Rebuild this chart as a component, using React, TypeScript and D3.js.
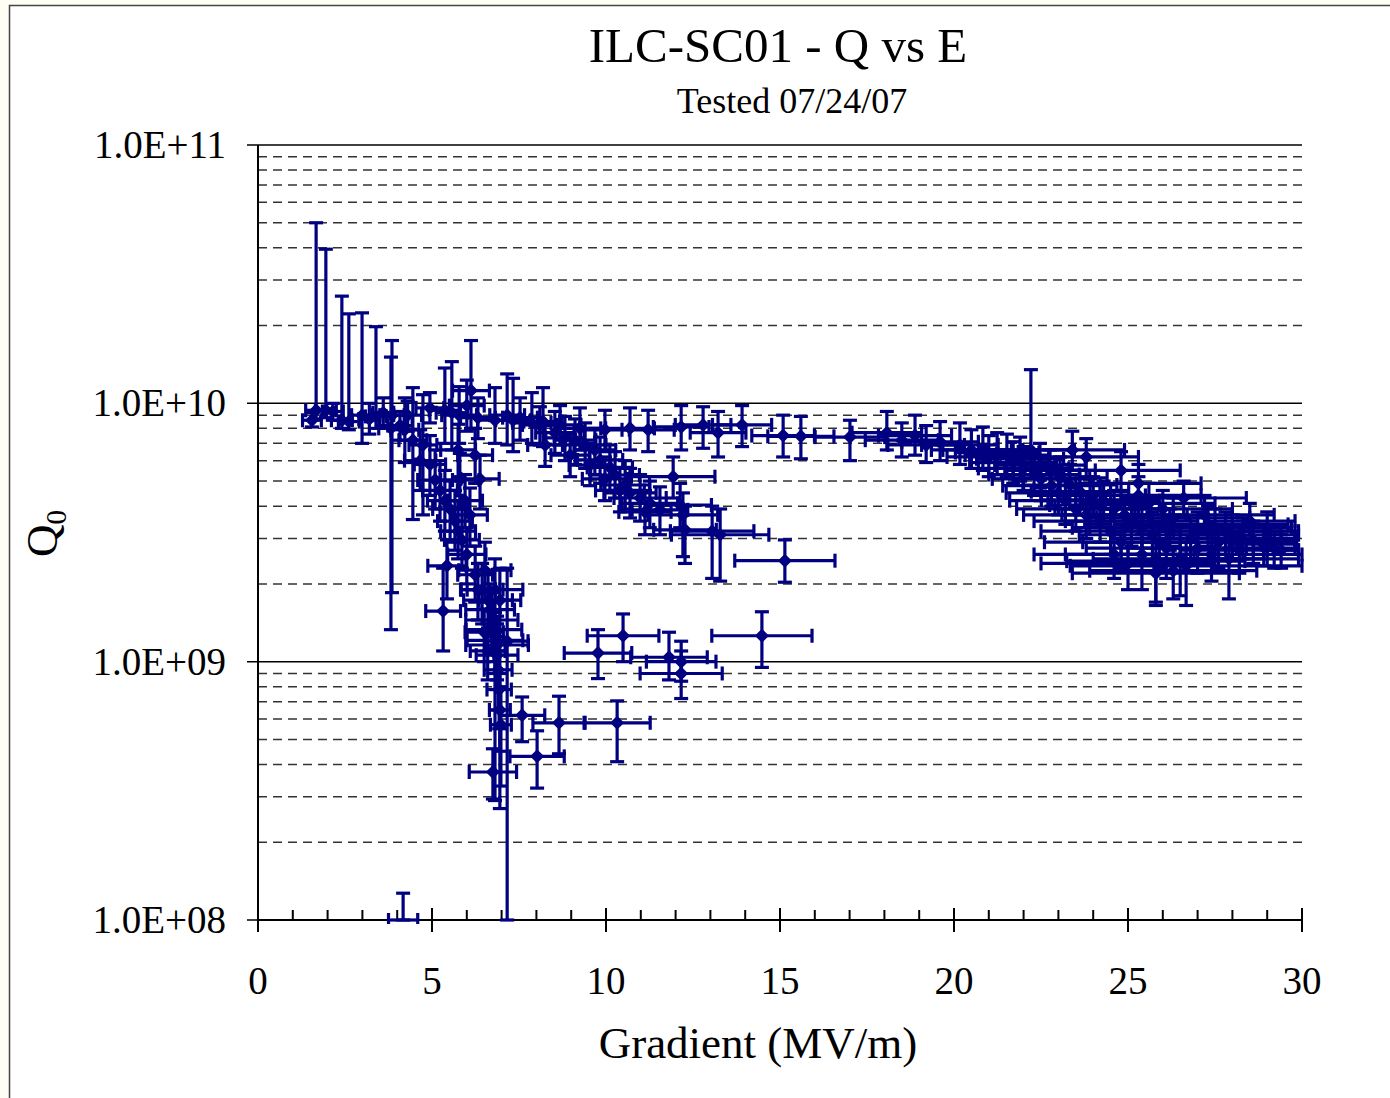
import React from "react";
import * as d3 from "d3";

// each point: [gradient MV/m, Q0, gradient error, Q0 upper end, Q0 lower end]
type Pt = [number, number, number, number, number];

const lowField: Pt[] = [
  [1.67, 9.4e9, 0.3, 5.0e10, 8.7e9],
  [1.95, 9.4e9, 0.3, 3.95e10, 8.8e9],
  [1.55, 8.6e9, 0.27, 9.2e9, 8.1e9],
  [2.15, 9.3e9, 0.3, 1.0e10, 8.6e9],
  [2.41, 8.6e9, 0.3, 2.6e10, 8.0e9],
  [2.61, 8.5e9, 0.3, 2.22e10, 7.9e9],
  [2.99, 9.0e9, 0.3, 2.24e10, 7.0e9],
  [3.2, 8.7e9, 0.3, 1.0e10, 7.6e9],
  [3.39, 8.9e9, 0.3, 1.98e10, 8.0e9],
  [3.6, 9.2e9, 0.3, 1.05e10, 8.2e9],
  [3.85, 9.0e9, 0.35, 1.75e10, 1.85e9],
  [3.82, 8.0e9, 0.35, 1.51e10, 1.33e9],
  [4.08, 8.2e9, 0.35, 9.3e9, 7.2e9],
  [4.3, 9.0e9, 0.4, 1.02e10, 7.8e9],
  [4.94, 9.6e9, 0.4, 1.1e10, 8.4e9],
  [5.37, 9.4e9, 0.45, 1.37e10, 7.0e9],
  [5.57, 9.2e9, 0.45, 1.45e10, 6.6e9],
  [5.78, 9.0e9, 0.5, 1.16e10, 7.0e9],
  [6.12, 1.12e10, 0.53, 1.75e10, 8.0e9],
  [6.0, 9.8e9, 0.5, 1.23e10, 7.8e9],
];

const dropBranch: Pt[] = [
  [4.22, 7.9e9, 0.4, 1.05e10, 5.9e9],
  [4.45, 7.2e9, 0.4, 1.15e10, 3.55e9],
  [4.74, 6.9e9, 0.4, 1.08e10, 3.7e9],
  [4.66, 6.0e9, 0.45, 7.9e9, 4.6e9],
  [4.94, 5.8e9, 0.45, 7.5e9, 4.4e9],
  [5.09, 5.05e9, 0.5, 6.6e9, 3.9e9],
  [5.23, 4.6e9, 0.5, 6.0e9, 3.5e9],
  [5.37, 4.2e9, 0.5, 5.5e9, 3.2e9],
  [5.52, 3.9e9, 0.5, 5.0e9, 2.9e9],
  [5.66, 3.5e9, 0.5, 4.6e9, 2.7e9],
  [5.75, 3.2e9, 0.5, 4.2e9, 2.5e9],
  [5.86, 2.96e9, 0.5, 3.9e9, 2.3e9],
  [5.43, 2.35e9, 0.55, 2.96e9, 1.75e9],
  [5.32, 1.57e9, 0.5, 2.3e9, 1.1e9],
  [5.8, 5.05e9, 0.55, 6.4e9, 3.9e9],
  [5.95, 4.2e9, 0.5, 5.3e9, 3.3e9],
  [6.09, 3.7e9, 0.5, 4.7e9, 2.8e9],
  [6.38, 5.1e9, 0.55, 6.3e9, 3.9e9],
  [6.24, 6.3e9, 0.5, 8.0e9, 4.9e9],
  [5.75, 6.6e9, 0.5, 8.3e9, 5.2e9],
  [6.52, 2.26e9, 0.75, 2.9e9, 1.7e9],
  [6.44, 1.9e9, 0.6, 2.4e9, 1.4e9],
  [6.0, 2.6e9, 0.55, 3.3e9, 2.0e9],
];

const collapse: Pt[] = [
  [6.61, 1.73e9, 0.7, 2.2e9, 1.35e9],
  [6.67, 1.59e9, 0.7, 2.0e9, 1.25e9],
  [6.72, 1.45e9, 0.75, 1.85e9, 1.1e9],
  [6.78, 1.33e9, 0.8, 1.7e9, 1.0e9],
  [6.81, 1.21e9, 0.8, 1.55e9, 9.0e8],
  [6.87, 1.16e9, 0.9, 1.5e9, 8.5e8],
  [6.87, 1.06e9, 0.6, 1.4e9, 7.8e8],
  [6.9, 9.3e8, 0.4, 1.25e9, 6.5e8],
  [6.93, 7.8e8, 0.35, 1.1e9, 5.5e8],
  [6.95, 6.5e8, 0.3, 9.0e8, 4.5e8],
  [6.98, 5.7e8, 0.3, 8.0e8, 3.3e8],
  [7.16, 1.2e9, 0.6, 2.3e9, 1.0e8],
  [6.81, 1.9e9, 0.8, 2.5e9, 2.9e8],
  [6.95, 1.73e9, 0.6, 2.3e9, 2.7e8],
  [6.32, 1.9e9, 0.5, 2.4e9, 1.45e9],
  [6.24, 2.17e9, 0.5, 2.8e9, 1.7e9],
  [6.5, 1.3e9, 0.55, 1.6e9, 1.0e9],
  [6.6, 1.1e9, 0.5, 1.4e9, 8.5e8],
];

const lateLow: Pt[] = [
  [7.59, 6.2e8, 0.65, 7.3e8, 4.9e8],
  [8.65, 5.8e8, 0.75, 7.35e8, 4.4e8],
  [10.32, 5.8e8, 0.95, 7.05e8, 4.1e8],
  [8.02, 4.3e8, 0.78, 5.4e8, 3.24e8],
  [6.75, 3.74e8, 0.68, 4.6e8, 2.94e8],
  [9.77, 1.08e9, 0.97, 1.33e9, 8.6e8],
  [10.49, 1.26e9, 1.03, 1.53e9, 1.0e9],
  [11.81, 1.04e9, 1.1, 1.3e9, 8.5e8],
  [12.16, 1.0e9, 1.0, 1.2e9, 8.4e8],
  [12.16, 9.0e8, 1.18, 1.1e9, 7.2e8],
  [14.48, 1.26e9, 1.44, 1.56e9, 9.5e8],
  [4.17, 1.0e8, 0.42, 1.27e8, 1.0e8],
];

const midBranch: Pt[] = [
  [8.1, 8.25e9, 0.5, 9.7e9, 6.9e9],
  [8.53, 7.7e9, 0.55, 9.3e9, 6.4e9],
  [8.82, 7.35e9, 0.55, 8.9e9, 6.0e9],
  [9.11, 7.2e9, 0.6, 8.7e9, 5.8e9],
  [9.4, 6.9e9, 0.6, 8.4e9, 5.6e9],
  [9.68, 6.6e9, 0.6, 8.0e9, 5.3e9],
  [9.83, 6.04e9, 0.65, 7.4e9, 4.9e9],
  [10.11, 5.65e9, 0.65, 6.9e9, 4.6e9],
  [10.26, 5.28e9, 0.7, 6.5e9, 4.3e9],
  [10.55, 4.83e9, 0.7, 6.0e9, 3.9e9],
  [10.69, 4.5e9, 0.75, 5.6e9, 3.6e9],
  [10.98, 4.3e9, 0.75, 5.3e9, 3.5e9],
  [11.26, 4.1e9, 0.8, 5.0e9, 3.3e9],
  [11.55, 3.87e9, 0.8, 4.75e9, 3.1e9],
  [11.93, 5.2e9, 1.2, 6.2e9, 4.3e9],
  [12.13, 4.04e9, 0.9, 4.9e9, 3.3e9],
  [12.21, 3.7e9, 1.0, 4.5e9, 2.55e9],
  [12.27, 3.24e9, 0.9, 4.0e9, 2.4e9],
  [13.05, 3.2e9, 1.2, 4.0e9, 2.1e9],
  [13.28, 3.1e9, 1.4, 3.9e9, 2.05e9],
  [15.14, 2.46e9, 1.44, 2.96e9, 2.03e9],
  [8.25, 6.9e9, 0.5, 8.2e9, 5.7e9],
  [8.97, 6.3e9, 0.55, 7.6e9, 5.2e9],
  [9.54, 5.77e9, 0.6, 7.0e9, 4.8e9],
  [9.97, 5.1e9, 0.65, 6.2e9, 4.2e9],
  [10.4, 4.6e9, 0.7, 5.6e9, 3.8e9],
  [11.12, 3.8e9, 0.75, 4.6e9, 3.1e9],
];

const topBranch: Pt[] = [
  [6.32, 8.8e9, 0.5, 1.05e10, 7.3e9],
  [6.81, 8.6e9, 0.5, 1.15e10, 7.0e9],
  [7.16, 9.0e9, 0.5, 1.3e10, 6.9e9],
  [7.33, 8.6e9, 0.5, 1.25e10, 6.5e9],
  [7.53, 8.8e9, 0.5, 1.05e10, 7.2e9],
  [7.87, 8.4e9, 0.55, 1.1e10, 7.0e9],
  [8.19, 8.5e9, 0.55, 1.15e10, 6.8e9],
  [8.68, 8.25e9, 0.6, 9.8e9, 6.9e9],
  [9.25, 8.0e9, 0.6, 9.6e9, 6.6e9],
  [9.97, 7.9e9, 0.7, 9.4e9, 6.5e9],
  [10.69, 8.0e9, 0.7, 9.6e9, 6.6e9],
  [11.21, 7.9e9, 0.75, 9.4e9, 6.5e9],
  [12.16, 8.1e9, 0.8, 9.8e9, 6.6e9],
  [12.79, 8.25e9, 0.8, 9.7e9, 6.7e9],
  [13.22, 7.7e9, 0.8, 9.3e9, 6.2e9],
  [13.91, 8.25e9, 0.85, 9.8e9, 6.8e9],
  [15.09, 7.5e9, 0.9, 9.0e9, 6.2e9],
  [15.6, 7.45e9, 0.95, 8.9e9, 6.1e9],
  [17.01, 7.4e9, 1.0, 8.6e9, 6.0e9],
  [18.07, 7.7e9, 1.0, 9.3e9, 6.6e9],
  [18.5, 7.2e9, 1.05, 8.4e9, 6.2e9],
  [18.88, 7.5e9, 1.05, 9.0e9, 6.3e9],
  [19.2, 6.9e9, 1.1, 8.2e9, 5.9e9],
  [19.6, 7.1e9, 1.1, 8.5e9, 6.0e9],
  [20.17, 6.9e9, 1.1, 8.4e9, 5.8e9],
  [20.5, 6.6e9, 1.15, 7.9e9, 5.6e9],
  [20.83, 6.6e9, 1.15, 8.1e9, 5.5e9],
  [21.0, 6.2e9, 1.2, 7.5e9, 5.2e9],
  [21.24, 6.45e9, 1.2, 7.7e9, 5.3e9],
  [21.52, 6.3e9, 1.2, 7.6e9, 5.2e9],
  [21.7, 5.9e9, 1.25, 7.1e9, 4.9e9],
  [21.9, 6.1e9, 1.25, 7.4e9, 5.0e9],
  [22.0, 5.6e9, 1.3, 6.8e9, 4.6e9],
  [22.21, 6.6e9, 1.25, 1.35e10, 5.3e9],
  [22.3, 5.3e9, 1.3, 6.4e9, 4.4e9],
];

const highField: Pt[] = [
  [22.47, 5.77e9, 1.3, 7.0e9, 4.7e9],
  [22.76, 5.5e9, 1.3, 6.6e9, 4.5e9],
  [23.05, 5.15e9, 1.35, 6.2e9, 4.2e9],
  [23.33, 4.83e9, 1.35, 5.8e9, 3.9e9],
  [23.62, 4.55e9, 1.4, 5.5e9, 3.7e9],
  [23.91, 4.23e9, 1.4, 5.1e9, 3.4e9],
  [24.2, 4.04e9, 1.45, 4.9e9, 3.3e9],
  [24.0, 4.4e9, 1.5, 5.2e9, 3.6e9],
  [24.3, 4.2e9, 1.6, 5.0e9, 3.4e9],
  [24.6, 3.9e9, 1.7, 4.6e9, 3.2e9],
  [24.9, 3.7e9, 1.8, 4.4e9, 3.0e9],
  [25.1, 3.5e9, 1.9, 4.2e9, 2.8e9],
  [25.4, 3.3e9, 2.0, 4.0e9, 2.6e9],
  [25.7, 3.1e9, 2.1, 3.8e9, 2.4e9],
  [25.9, 2.9e9, 2.2, 3.5e9, 2.3e9],
  [26.1, 2.75e9, 2.3, 3.3e9, 2.1e9],
  [25.8, 2.45e9, 2.56, 3.0e9, 1.7e9],
  [26.67, 2.35e9, 3.33, 2.9e9, 1.65e9],
  [26.3, 2.25e9, 2.4, 2.8e9, 1.75e9],
  [24.5, 3.2e9, 2.0, 3.9e9, 2.6e9],
  [24.2, 3.5e9, 1.9, 4.2e9, 2.9e9],
  [23.8, 3.7e9, 1.8, 4.5e9, 3.0e9],
  [23.5, 3.9e9, 1.7, 4.7e9, 3.2e9],
  [23.2, 4.2e9, 1.6, 5.0e9, 3.4e9],
  [23.0, 4.5e9, 1.5, 5.4e9, 3.7e9],
  [22.8, 4.8e9, 1.4, 5.7e9, 4.0e9],
  [22.5, 5.1e9, 1.4, 6.1e9, 4.2e9],
  [26.8, 3.0e9, 2.3, 3.6e9, 2.4e9],
  [27.0, 3.2e9, 2.4, 3.8e9, 2.6e9],
  [27.3, 3.4e9, 2.3, 4.0e9, 2.8e9],
  [27.5, 3.3e9, 2.2, 3.9e9, 2.6e9],
  [27.8, 3.2e9, 2.1, 3.8e9, 2.6e9],
  [28.0, 3.1e9, 1.9, 3.7e9, 2.5e9],
  [28.3, 3.0e9, 1.5, 3.6e9, 2.5e9],
  [28.6, 2.95e9, 1.2, 3.5e9, 2.4e9],
  [28.9, 2.85e9, 0.95, 3.4e9, 2.35e9],
  [29.2, 2.75e9, 0.6, 3.2e9, 2.3e9],
  [29.4, 2.7e9, 0.5, 3.1e9, 2.3e9],
  [26.3, 3.6e9, 2.2, 4.3e9, 3.0e9],
  [26.0, 3.9e9, 2.0, 4.6e9, 3.2e9],
  [25.6, 4.1e9, 1.9, 4.9e9, 3.4e9],
  [25.3, 4.4e9, 1.8, 5.2e9, 3.6e9],
  [27.4, 2.6e9, 2.6, 3.1e9, 2.05e9],
  [25.8, 2.2e9, 2.4, 2.6e9, 1.65e9],
  [25.4, 2.6e9, 2.2, 3.1e9, 1.9e9],
  [27.9, 2.5e9, 2.0, 3.0e9, 1.75e9],
  [27.0, 2.75e9, 2.0, 3.3e9, 2.2e9],
  [24.8, 2.9e9, 2.2, 3.4e9, 2.3e9],
  [28.5, 3.5e9, 1.3, 4.1e9, 2.9e9],
  [27.2, 3.7e9, 2.0, 4.4e9, 3.1e9],
  [29.0, 3.2e9, 0.8, 3.8e9, 2.7e9],
  [26.6, 4.3e9, 1.8, 5.0e9, 3.6e9],
  [25.3, 4.9e9, 1.8, 5.8e9, 4.1e9],
  [24.8, 5.5e9, 1.7, 6.5e9, 4.6e9],
  [23.8, 6.2e9, 1.5, 7.3e9, 5.2e9],
  [23.4, 6.6e9, 1.5, 7.8e9, 5.5e9],
  [24.6, 2.6e9, 2.3, 3.1e9, 2.1e9],
  [25.0, 2.4e9, 2.5, 2.9e9, 1.9e9],
  [26.5, 2.5e9, 2.5, 3.0e9, 1.8e9],
  [27.6, 2.9e9, 2.2, 3.4e9, 2.3e9],
  [28.2, 2.7e9, 1.7, 3.2e9, 2.2e9],
  [26.2, 3.3e9, 2.3, 3.9e9, 2.7e9],
];

const xTicks = [0, 5, 10, 15, 20, 25, 30];
const yMajor = [1e8, 1e9, 1e10, 1e11];
const yLabels = ["1.0E+08", "1.0E+09", "1.0E+10", "1.0E+11"];

const NAVY = "#000080";
const FONT = "'Liberation Serif', 'Times New Roman', serif";

export default function App() {
  const W = 1390;
  const H = 1098;
  const left = 258, right = 1302, top = 145, bottom = 920;

  const x = d3.scaleLinear().domain([0, 30]).range([left, right]);
  const y = d3.scaleLog().domain([1e8, 1e11]).range([bottom, top]);

  const points = [
    ...lowField, ...dropBranch, ...collapse, ...lateLow,
    ...midBranch, ...topBranch, ...highField,
  ];

  const minorY = y.ticks().filter(v => !yMajor.some(m => Math.abs(m - v) / m < 1e-6));
  const minorX = d3.range(1, 30).filter(v => v % 5 !== 0);
  const diamond = d3.symbol(d3.symbolSquare, 98)() as string;
  const cap = 7;

  return (
    <svg width={W} height={H} style={{ position: "absolute", left: 0, top: 0 }} fontFamily={FONT}>
      <defs>
        <clipPath id="plot">
          <rect x={left - 10} y={top} width={right - left + 15} height={bottom - top + 4} />
        </clipPath>
      </defs>
      <rect x={0} y={0} width={W} height={H} fill="#fffef4" />
      <rect x={9.5} y={5.5} width={W + 10} height={H + 10} fill="#fff" stroke="#444" strokeWidth={1.5} />

      <text x={778} y={62} textAnchor="middle" fontSize={49}>ILC-SC01 - Q vs E</text>
      <text x={792} y={113} textAnchor="middle" fontSize={36}>Tested 07/24/07</text>

      {/* grid */}
      {minorY.map(v => (
        <line key={"g" + v} x1={left} x2={right} y1={y(v)} y2={y(v)}
          stroke="#333" strokeWidth={1.5} strokeDasharray="9,6" />
      ))}
      {yMajor.map(v => (
        <line key={"m" + v} x1={left - 11} x2={right} y1={y(v)} y2={y(v)} stroke="#000" strokeWidth={1.5} />
      ))}

      {/* axes */}
      <line x1={left} x2={left} y1={top} y2={bottom} stroke="#000" strokeWidth={2} />
      <line x1={left} x2={right} y1={bottom} y2={bottom} stroke="#000" strokeWidth={2} />
      {minorX.map(v => (
        <line key={"mx" + v} x1={x(v)} x2={x(v)} y1={bottom - 10} y2={bottom} stroke="#000" strokeWidth={2} />
      ))}
      {xTicks.map(v => (
        <g key={"xt" + v}>
          <line x1={x(v)} x2={x(v)} y1={bottom - 12} y2={bottom + 12} stroke="#000" strokeWidth={2} />
          <text x={x(v)} y={994} textAnchor="middle" fontSize={39}>{v}</text>
        </g>
      ))}
      {yMajor.map((v, i) => (
        <text key={"yl" + v} x={226} y={y(v) + 13} textAnchor="end" fontSize={39}>{yLabels[i]}</text>
      ))}

      <text x={758} y={1058} textAnchor="middle" fontSize={45}>Gradient (MV/m)</text>
      <text transform="translate(57,557) rotate(-90)" fontSize={45}>
        Q<tspan fontSize={29} dy={9}>0</tspan>
      </text>

      {/* error bars */}
      <g clipPath="url(#plot)" stroke={NAVY} strokeWidth={3.2} fill="none">
        {points.map((p, i) => {
          const [e, q, de, qHi, qLo] = p;
          const cx = x(e), cy = y(q);
          const x0 = x(e - de), x1 = x(e + de);
          const yHi = y(qHi), yLo = y(qLo);
          return (
            <g key={"eb" + i}>
              <line x1={cx} x2={cx} y1={yHi} y2={yLo} />
              <line x1={cx - cap} x2={cx + cap} y1={yHi} y2={yHi} />
              <line x1={cx - cap} x2={cx + cap} y1={yLo} y2={yLo} />
              <line x1={x0} x2={x1} y1={cy} y2={cy} />
              <line x1={x0} x2={x0} y1={cy - cap} y2={cy + cap} />
              <line x1={x1} x2={x1} y1={cy - cap} y2={cy + cap} />
            </g>
          );
        })}
      </g>

      {/* markers */}
      <g fill={NAVY}>
        {points.filter(p => p[1] > 1e8).map((p, i) => (
          <path key={"pt" + i} d={diamond}
            transform={`translate(${x(p[0])},${y(p[1])}) rotate(45)`} />
        ))}
      </g>
    </svg>
  );
}
